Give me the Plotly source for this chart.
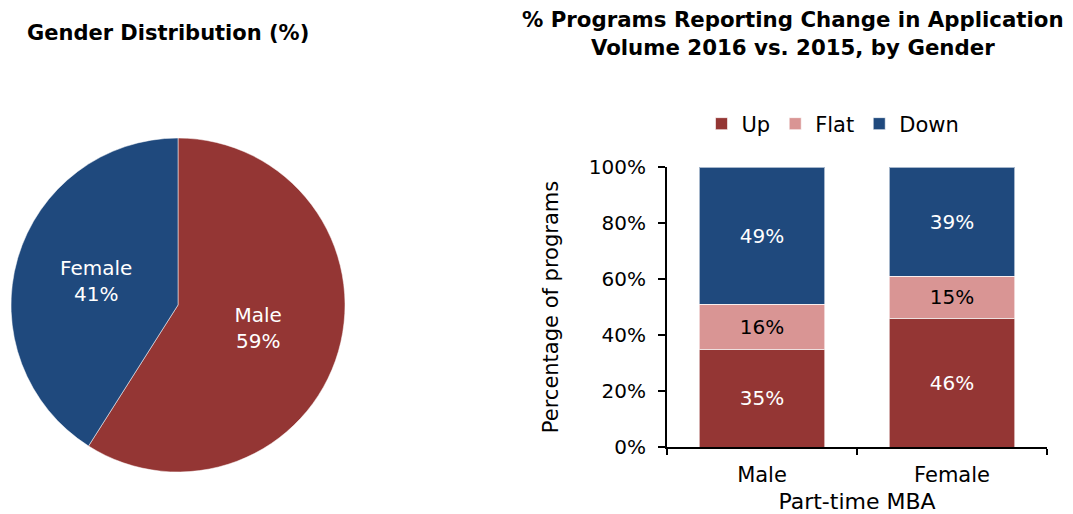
import plotly.graph_objects as go

W, H = 1073, 514

# Pie data
pie_labels = ["Male", "Female"]
pie_values = [59, 41]
pie_colors = ["#943634", "#1F497D"]

# Bar data
categories = ["Male", "Female"]
series_names = ["Up", "Flat", "Down"]
up_vals = [35, 46]
flat_vals = [16, 15]
down_vals = [49, 39]
series_colors = ["#943634", "#D99594", "#1F497D"]
label_colors = ["white", "black", "white"]
y_ticks = [0, 20, 40, 60, 80, 100]

FONT = "DejaVu Sans"

def px_x(x):
    return x / W

def px_y(y):
    return 1 - y / H

fig = go.Figure()

fig.add_trace(go.Pie(
    labels=pie_labels, values=pie_values, sort=False, direction="clockwise",
    rotation=0, marker=dict(colors=pie_colors, line=dict(color="rgba(255,255,255,0.5)", width=1)),
    texttemplate="%{label}<br>%{value}%", textposition="inside",
    insidetextorientation="horizontal",
    textfont=dict(family=FONT, size=20, color="white"),
    domain=dict(x=[px_x(11), px_x(345)], y=[px_y(472), px_y(138)]),
    showlegend=False, hoverinfo="skip",
))

for name, vals, col, lc in zip(series_names, [up_vals, flat_vals, down_vals], series_colors, label_colors):
    fig.add_trace(go.Bar(
        x=categories, y=vals, name=name,
        marker=dict(color=col, line=dict(color="rgba(255,255,255,0.6)", width=1)),
        text=[f"{v}%" for v in vals], textposition="inside", insidetextanchor="middle",
        textfont=dict(family=FONT, size=20, color=lc),
        xaxis="x", yaxis="y",
    ))

fig.update_layout(
    width=W, height=H,
    margin=dict(l=0, r=0, t=0, b=0, autoexpand=False),
    paper_bgcolor="white", plot_bgcolor="white",
    barmode="stack", bargap=0.34,
    font=dict(family=FONT, size=20, color="black"),
    showlegend=True,
    legend=dict(orientation="h", x=px_x(833), xanchor="center", y=px_y(124), yanchor="middle",
                font=dict(family=FONT, size=21, color="black"), traceorder="normal",
                itemwidth=30, bgcolor="rgba(0,0,0,0)"),
    xaxis=dict(domain=[px_x(667), px_x(1047)], showline=True, linecolor="black", linewidth=2,
               ticks="outside", tickson="boundaries", ticklen=6, tickcolor="black", tickwidth=2,
               tickfont=dict(family=FONT, size=21, color="black"), automargin=False,
               ticklabelstandoff=8,
               title=dict(text="Part-time MBA", font=dict(family=FONT, size=22, color="black"), standoff=10)),
    yaxis=dict(domain=[px_y(447), px_y(167)], range=[0, 100], tickvals=y_ticks,
               ticktext=[f"{t}%" for t in y_ticks], automargin=False,
               showline=True, linecolor="black", linewidth=2, showgrid=False, zeroline=False,
               ticks="outside", ticklen=7, tickcolor="black", tickwidth=2,
               ticklabelstandoff=8,
               tickfont=dict(family=FONT, size=20, color="black"),
               title=dict(text="Percentage of programs", font=dict(family=FONT, size=21, color="black"), standoff=24)),
    annotations=[
        dict(text="Gender Distribution (%)", x=px_x(25), y=px_y(33), xref="paper", yref="paper",
             xanchor="left", yanchor="middle", showarrow=False,
             font=dict(family=FONT, size=21, color="black", weight="bold")),
        dict(text="% Programs Reporting Change in Application<br>Volume 2016 vs. 2015, by Gender",
             x=px_x(793), y=px_y(34), xref="paper", yref="paper",
             xanchor="center", yanchor="middle", showarrow=False,
             font=dict(family=FONT, size=21.3, color="black", weight="bold")),
    ],
)

fig.write_html("out.html", config={"displayModeBar": False},
               post_script="document.body.style.margin='0';document.body.style.overflow='hidden';")
